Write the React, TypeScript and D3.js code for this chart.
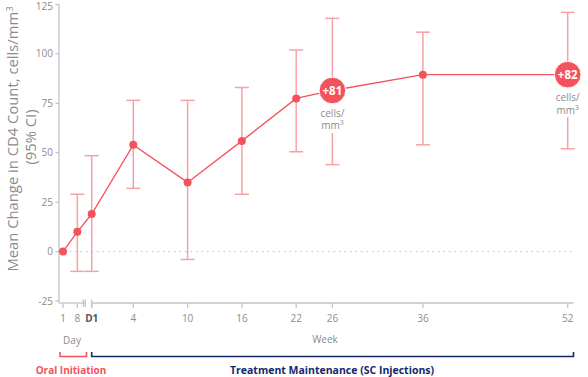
import React from "react";
import * as d3 from "d3";

const labels = ["1", "8", "D1", "4", "10", "16", "22", "26", "36", "52"];
const phases = ["day", "day", "day", "week", "week", "week", "week", "week", "week", "week"];
const xValues = [1, 8, 15, 4, 10, 16, 22, 26, 36, 52];
const means = [0, 10, 19, 54, 35, 56, 77.5, 81.5, 89.5, 89.5];
const lowers = [null, -10, -10, 32, -4, 29, 50.5, 44, 54, 52];
const uppers = [null, 29, 48.5, 76.5, 76.5, 83, 102, 118, 111, 121];
const highlightIdx = [7, 9];
const highlightText = ["+81", "+82"];
const yTicks = [-25, 0, 25, 50, 75, 100, 125];

const RED = "#f4525c";
const PINK = "#f7a0a6";
const NAVY = "#15276b";
const GREY = "#8c8c8c";
const AXIS = "#c4c4c4";
const FONT = "'Open Sans', 'DejaVu Sans', sans-serif";

export default function App() {
  const y = d3.scaleLinear().domain([-25, 125]).range([301, 4.5]);
  const dayX = d3.scaleLinear().domain([1, 15]).range([63, 91.7]);
  const weekX = d3.scaleLinear().domain([4, 52]).range([133.3, 567.7]);
  const xOf = (i: number) => (phases[i] === "day" ? dayX(xValues[i]) : weekX(xValues[i]));

  const pts = means.map((m, i) => [xOf(i), y(m)] as [number, number]);
  const line = d3.line()(pts) || "";
  const axisY = 303;
  const capHalf = 7;

  return (
    <svg width={588} height={377} style={{ position: "absolute", left: 0, top: 0 }} fontFamily={FONT}>
      {/* zero line */}
      <line x1={64} x2={575} y1={y(0)} y2={y(0)} stroke="#bdbdbd" strokeDasharray="1.5,4" strokeWidth={1} />

      {/* Y axis */}
      <line x1={59} x2={59} y1={y(125)} y2={axisY} stroke={AXIS} strokeWidth={1.3} />
      {yTicks.map((t) => (
        <g key={t}>
          <line x1={55.5} x2={59} y1={y(t)} y2={y(t)} stroke={AXIS} strokeWidth={1.3} />
          <text x={53} y={Math.max(y(t), 6.5)} dy="0.35em" textAnchor="end" fontSize={10} fill={GREY}>
            {t < 0 ? "-" + Math.abs(t) : t}
          </text>
        </g>
      ))}
      <text transform={`translate(13,139) rotate(-90)`} textAnchor="middle" dy="0.35em" fontSize={14.8} fill={GREY}>
        Mean Change in CD4 Count, cells/mm<tspan fontSize={9.5} dy="-5.5">3</tspan>
      </text>
      <text transform={`translate(31,137) rotate(-90)`} textAnchor="middle" dy="0.35em" fontSize={14.8} fill={GREY}>
        (95% CI)
      </text>

      {/* X axis */}
      <line x1={59} x2={85} y1={axisY} y2={axisY} stroke={AXIS} strokeWidth={1.3} />
      <line x1={83.3} x2={83.3} y1={299.5} y2={307} stroke={AXIS} strokeWidth={1.3} />
      <line x1={85.3} x2={85.3} y1={299.5} y2={307} stroke={AXIS} strokeWidth={1.3} />
      <line x1={91.7} x2={573.5} y1={axisY} y2={axisY} stroke={AXIS} strokeWidth={1.3} />
      <line x1={91.7} x2={91.7} y1={299.5} y2={307} stroke={AXIS} strokeWidth={1.3} />
      {labels.map((l, i) => (
        <g key={l}>
          <line x1={xOf(i)} x2={xOf(i)} y1={axisY} y2={axisY + 5} stroke={AXIS} strokeWidth={1.3} />
          <text
            x={xOf(i)}
            y={318}
            dy="0.35em"
            textAnchor="middle"
            fontSize={10}
            fill={l === "D1" ? "#555" : GREY}
            fontWeight={l === "D1" ? 700 : 400}
          >
            {l}
          </text>
        </g>
      ))}
      <text x={72} y={340.5} dy="0.35em" textAnchor="middle" fontSize={10} fill={GREY}>Day</text>
      <text x={325} y={339} dy="0.35em" textAnchor="middle" fontSize={10} fill={GREY}>Week</text>

      {/* phase brackets */}
      <path d={`M60,352 V356.5 H86.5 V352`} fill="none" stroke={RED} strokeWidth={1.6} />
      <text x={71} y={370} dy="0.35em" textAnchor="middle" fontSize={10} fontWeight={700} fill={RED}>Oral Initiation</text>
      <path d={`M91.7,352 V356.5 H573.5 V352`} fill="none" stroke={NAVY} strokeWidth={1.6} />
      <text x={332} y={370} dy="0.35em" textAnchor="middle" fontSize={10.5} fontWeight={700} fill={NAVY}>
        Treatment Maintenance (SC Injections)
      </text>

      {/* error bars */}
      {means.map((m, i) => {
        const lo = lowers[i];
        const hi = uppers[i];
        if (lo === null || hi === null) return null;
        const x = xOf(i);
        const hl = highlightIdx.includes(i);
        return (
          <g key={"e" + i} stroke={PINK} strokeWidth={1.5}>
            {hl ? (
              <>
                <line x1={x} x2={x} y1={y(hi)} y2={y(m)} />
                <line x1={x} x2={x} y1={y(m) + 42.5} y2={y(lo)} />
              </>
            ) : (
              <line x1={x} x2={x} y1={y(hi)} y2={y(lo)} />
            )}
            <line x1={x - capHalf} x2={x + capHalf} y1={y(hi)} y2={y(hi)} />
            <line x1={x - capHalf} x2={x + capHalf} y1={y(lo)} y2={y(lo)} />
          </g>
        );
      })}

      {/* line */}
      <path d={line} fill="none" stroke={RED} strokeWidth={1.3} />
      {pts.map(([px, py], i) =>
        highlightIdx.includes(i) ? null : <circle key={"p" + i} cx={px} cy={py} r={4} fill={RED} />
      )}

      {/* highlight circles */}
      {highlightIdx.map((idx, k) => {
        const [px, py] = pts[idx];
        return (
          <g key={"h" + idx}>
            <circle cx={px} cy={py} r={13.3} fill={RED} stroke="#fff" strokeWidth={1} />
            <text x={px} y={py} dy="0.35em" textAnchor="middle" fontSize={11.5} fontWeight={700} fill="#fff">
              {highlightText[k]}
            </text>
            <text x={px} y={py + 23} dy="0.35em" textAnchor="middle" fontSize={10} fill={GREY}>cells/</text>
            <text x={px} y={py + 35.5} dy="0.35em" textAnchor="middle" fontSize={10} fill={GREY}>
              mm<tspan fontSize={7} dy="-4">3</tspan>
            </text>
          </g>
        );
      })}
    </svg>
  );
}
